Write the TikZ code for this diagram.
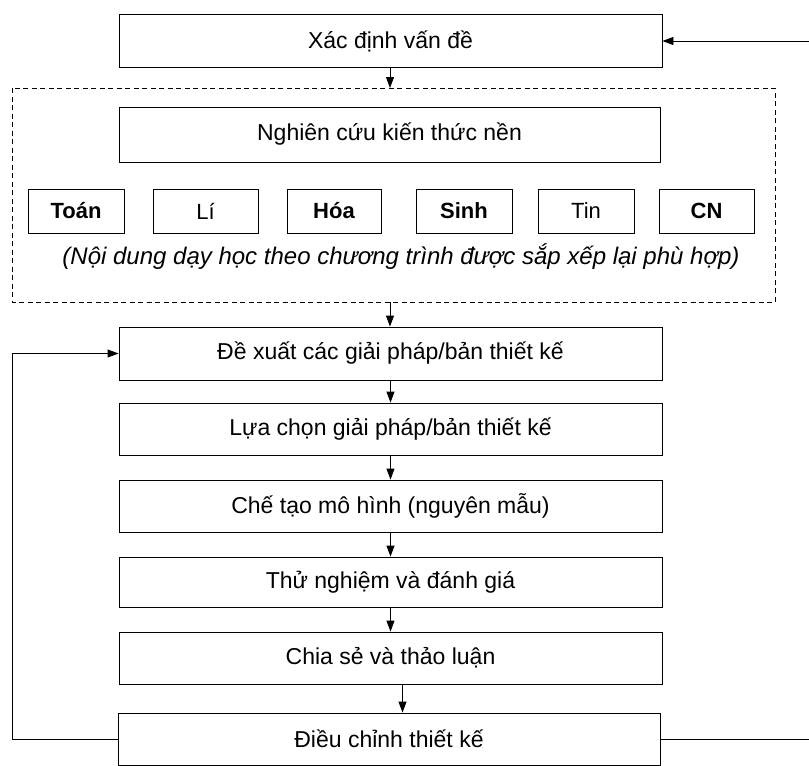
\documentclass[tikz,border=0pt]{standalone}
\usepackage{fontspec}
\setmainfont{Liberation Sans}
\usetikzlibrary{arrows.meta}
\tikzset{
  txt/.style={font=\fontsize{23}{26}\selectfont},
  stepbox/.style={draw, line width=0.9pt, minimum width=543pt, minimum height=53pt,
    inner sep=0pt, txt},
  subj/.style={draw, line width=0.9pt, minimum height=44pt, inner sep=0pt,
    font=\fontsize{22}{25}\selectfont},
  subjb/.style={subj, font=\fontsize{22}{25}\selectfont\bfseries},
  link/.style={line width=0.9pt, -{Triangle[length=11pt,width=8pt]}},
  group/.style={line width=0.9pt, dash pattern=on 5pt off 3.5pt}
}
\begin{document}
\begin{tikzpicture}[x=1pt,y=-1pt]
\useasboundingbox (0,0) rectangle (809,766);

% problem definition
\node[stepbox] (xac) at (390.5,41) {Xác định vấn đề};

% background knowledge group
\draw[group] (12,88) rectangle (775,302);
\coordinate (grouptop) at (390,88);
\coordinate (groupbot) at (390,302);
\node[stepbox, minimum width=541pt, minimum height=55pt] (nghien) at (389.5,134.5)
  {\raisebox{6pt}{Nghiên cứu kiến thức nền}};

\node[subjb, minimum width=96pt] (toan) at (76,211) {Toán};
\node[subj, minimum width=105pt] (li) at (205.5,211) {Lí};
\node[subjb, minimum width=94pt] (hoa) at (334,211) {Hóa};
\node[subjb, minimum width=96pt] (sinh) at (464,211) {Sinh};
\node[subj, minimum width=96pt] (tin) at (586,211) {Tin};
\node[subjb, minimum width=95pt] (cn) at (706.5,211) {CN};

\node[font=\fontsize{24}{27}\selectfont\itshape] (note) at (401,257)
  {(Nội dung dạy học theo chương trình được sắp xếp lại phù hợp)};

% design cycle
\node[stepbox] (dexuat) at (390.5,353.5) {Đề xuất các giải pháp/bản thiết kế};
\node[stepbox, minimum height=52pt] (luachon) at (390.5,429) {Lựa chọn giải pháp/bản thiết kế};
\node[stepbox, minimum height=52pt] (chetao) at (390.5,506) {Chế tạo mô hình (nguyên mẫu)};
\node[stepbox, minimum height=50pt] (thu) at (390.5,582) {Thử nghiệm và đánh giá};
\node[stepbox, minimum height=52pt] (chia) at (390.5,658) {Chia sẻ và thảo luận};
\node[stepbox, minimum width=542pt, minimum height=52pt] (dieu) at (389,739) {Điều chỉnh thiết kế};

% connectors
\draw[link] (xac.south -| grouptop) -- (grouptop);
\draw[link] (groupbot) -- (groupbot |- dexuat.north);
\draw[link] (dexuat) -- (luachon);
\draw[link] (luachon) -- (chetao);
\draw[link] (chetao) -- (thu);
\draw[link] (thu) -- (chia);
\coordinate (chiaout) at ([xshift=12pt]chia.south);
\draw[link] (chiaout) -- (chiaout |- dieu.north);

% feedback loops
\draw[link] (dieu.west) -- (12,739) |- (dexuat.west);
\draw[link] (dieu.east) -- (822,739) |- (xac.east);
\end{tikzpicture}
\end{document}
